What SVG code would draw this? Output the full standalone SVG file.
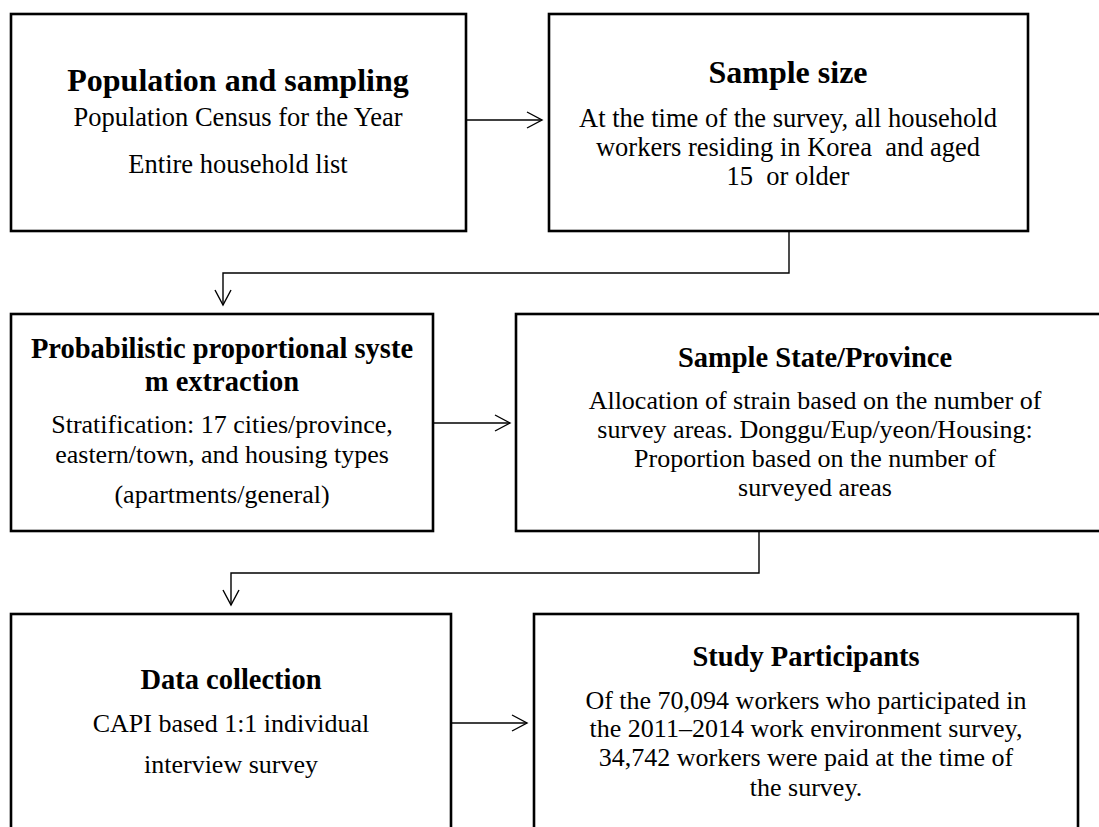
<svg xmlns="http://www.w3.org/2000/svg" width="1099" height="827" viewBox="0 0 1099 827">
<style>
.box{fill:#fff;stroke:#000;stroke-width:2.6}
.t{font-family:"Liberation Serif","Times New Roman",serif;font-weight:bold;font-size:28.5px;fill:#000;text-anchor:middle}
.t1{font-size:32px}
.b{font-family:"Liberation Serif","Times New Roman",serif;font-size:26px;fill:#000;text-anchor:middle}
.b1{font-size:26.5px}
.c{fill:none;stroke:#000;stroke-width:1.4}
</style>
<defs>
<marker id="ah" markerUnits="userSpaceOnUse" markerWidth="20" markerHeight="20" refX="16" refY="9" orient="auto">
<path d="M1,1 L16,9 L1,17" fill="none" stroke="#000" stroke-width="1.4"/>
</marker>
</defs>
<rect width="1099" height="827" fill="#fff"/>
<g id="connectors">
<line class="c" x1="467" y1="120" x2="542" y2="120" marker-end="url(#ah)"/>
<polyline class="c" points="789,232 789,273 223,273 223,305" marker-end="url(#ah)"/>
<line class="c" x1="434" y1="423" x2="510" y2="423" marker-end="url(#ah)"/>
<polyline class="c" points="759,532 759,573 231,573 231,605" marker-end="url(#ah)"/>
<line class="c" x1="452" y1="723" x2="527" y2="723" marker-end="url(#ah)"/>
</g>
<g id="node-population">
<rect class="box" x="11" y="14" width="455" height="217"/>
<text class="t t1" x="238" y="91">Population and sampling</text>
<text class="b b1" x="238" y="126">Population Census for the Year</text>
<text class="b b1" x="238" y="173">Entire household list</text>
</g>
<g id="node-sample-size">
<rect class="box" x="549" y="14" width="479" height="217"/>
<text class="t t1" x="788" y="83">Sample size</text>
<text class="b b1" x="788" y="127">At the time of the survey, all household</text>
<text class="b b1" x="788" y="156">workers residing in Korea &#160;and aged</text>
<text class="b b1" x="788" y="185">15 &#160;or older</text>
</g>
<g id="node-probabilistic">
<rect class="box" x="11" y="314" width="422" height="217"/>
<text class="t" x="222" y="358">Probabilistic proportional syste</text>
<text class="t" x="222" y="391">m extraction</text>
<text class="b" x="222" y="433">Stratification: 17 cities/province,</text>
<text class="b" x="222" y="463">eastern/town, and housing types</text>
<text class="b" x="222" y="503">(apartments/general)</text>
</g>
<g id="node-state">
<rect class="box" x="516" y="314" width="600" height="217"/>
<text class="t" x="815" y="367">Sample State/Province</text>
<text class="b" x="815" y="409">Allocation of strain based on the number of</text>
<text class="b" x="815" y="438">survey areas. Donggu/Eup/yeon/Housing:</text>
<text class="b" x="815" y="467">Proportion based on the number of</text>
<text class="b" x="815" y="496">surveyed areas</text>
</g>
<g id="node-data">
<rect class="box" x="11" y="614" width="440" height="240"/>
<text class="t" x="231" y="689">Data collection</text>
<text class="b" x="231" y="732">CAPI based 1:1 individual</text>
<text class="b" x="231" y="773">interview survey</text>
</g>
<g id="node-participants">
<rect class="box" x="534" y="614" width="544" height="240"/>
<text class="t" x="806" y="666">Study Participants</text>
<text class="b" x="806" y="709">Of the 70,094 workers who participated in</text>
<text class="b" x="806" y="737">the 2011–2014 work environment survey,</text>
<text class="b" x="806" y="766">34,742 workers were paid at the time of</text>
<text class="b" x="806" y="796">the survey.</text>
</g>
</svg>
